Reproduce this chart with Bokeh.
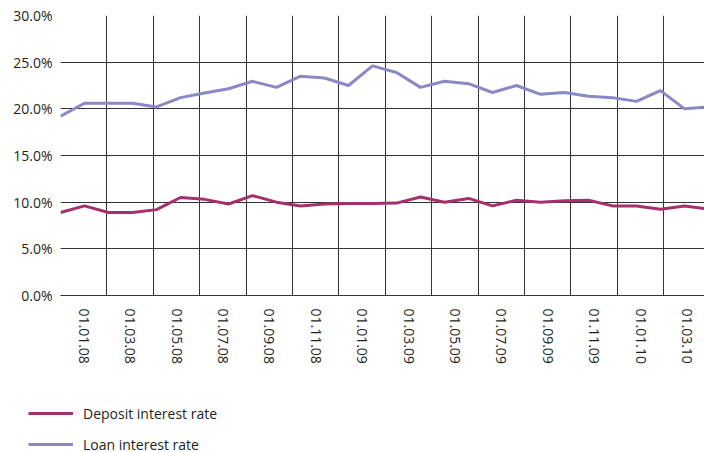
from bokeh.plotting import figure
from bokeh.layouts import column
from bokeh.models import Range1d, FixedTicker, PrintfTickFormatter, Legend, LegendItem
from bokeh.embed import file_html
from bokeh.resources import INLINE

# ---- data -------------------------------------------------------------
tick_labels = ["01.01.08", "01.03.08", "01.05.08", "01.07.08", "01.09.08",
               "01.11.08", "01.01.09", "01.03.09", "01.05.09", "01.07.09",
               "01.09.09", "01.11.09", "01.01.10", "01.03.10"]
tick_months = [1, 3, 5, 7, 9, 11, 13, 15, 17, 19, 21, 23, 25, 27]

deposit = [8.9, 9.6, 8.9, 8.9, 9.2, 10.5, 10.3, 9.8, 10.7, 10.0,
           9.6, 9.8, 9.85, 9.85, 9.9, 10.55, 10.0, 10.4, 9.6, 10.2,
           10.0, 10.15, 10.2, 9.6, 9.6, 9.25, 9.6, 9.25]
loan = [19.2, 20.6, 20.6, 20.6, 20.2, 21.2, 21.7, 22.15, 22.95, 22.3,
        23.5, 23.3, 22.5, 24.6, 23.9, 22.3, 22.95, 22.7, 21.75, 22.5,
        21.55, 21.75, 21.35, 21.2, 20.8, 21.95, 20.0, 20.2]
point_index = list(range(len(deposit)))

y_ticks = [0, 5, 10, 15, 20, 25, 30]

series_names = ["Deposit interest rate", "Loan interest rate"]

# ---- layout constants ---------------------------------------------------
N_CATS = 30          # category slots of the full (cropped) chart
FULL_W = 696         # full plot-area width
FRAME_W = 644        # visible plot-area width
month_end = N_CATS * FRAME_W / FULL_W
point_end = (N_CATS - 1) * FRAME_W / FULL_W

W = 704
H_MAIN = 380
H_LEG = 72

FONT = "Open Sans"
TXT = "#231f20"
GRID = "#333333"
DEP_COLOR = "#a6306c"
LOAN_COLOR = "#8c87c6"

p = figure(width=W, height=H_MAIN,
           x_range=Range1d(0, month_end), y_range=Range1d(0, 30),
           min_border_left=60, min_border_right=0,
           min_border_top=15, min_border_bottom=85,
           output_backend="svg", toolbar_location=None,
           outline_line_color=None, background_fill_color="white",
           border_fill_color="white")
p.extra_x_ranges = {"pts": Range1d(0, point_end)}

# x axis
xa = p.xaxis[0]
xa.ticker = FixedTicker(ticks=tick_months)
xa.major_label_overrides = {m: lab for m, lab in zip(tick_months, tick_labels)}
xa.major_label_orientation = "vertical"
xa.major_label_standoff = 13
xa.major_tick_in = 0
xa.major_tick_out = 0
xa.minor_tick_line_color = None
xa.major_tick_line_color = None
xa.axis_line_color = GRID
xa.major_label_text_font = FONT
xa.major_label_text_font_size = "14px"
xa.major_label_text_color = TXT

# y axis
ya = p.yaxis[0]
ya.ticker = FixedTicker(ticks=y_ticks)
ya.formatter = PrintfTickFormatter(format="%.1f%%")
ya.major_label_standoff = 8
ya.major_tick_in = 0
ya.major_tick_out = 0
ya.minor_tick_line_color = None
ya.major_tick_line_color = None
ya.axis_line_color = None
ya.major_label_text_font = FONT
ya.major_label_text_font_size = "14px"
ya.major_label_text_color = TXT

# grids
grid_months = [m - 1 for m in tick_months] + [tick_months[-1] + 1]
p.xgrid.ticker = FixedTicker(ticks=grid_months)
p.xgrid.grid_line_color = GRID
p.xgrid.grid_line_width = 1
p.ygrid.ticker = FixedTicker(ticks=y_ticks)
p.ygrid.grid_line_color = GRID
p.ygrid.grid_line_width = 1

# lines
p.line(point_index, deposit, x_range_name="pts", line_color=DEP_COLOR, line_width=3)
p.line(point_index, loan, x_range_name="pts", line_color=LOAN_COLOR, line_width=3)

# ---- legend strip ---------------------------------------------------------
q = figure(width=W, height=H_LEG, x_range=Range1d(0, W), y_range=Range1d(0, H_LEG),
           x_axis_location=None, y_axis_location=None,
           min_border=0, min_border_left=0, min_border_right=0,
           min_border_top=0, min_border_bottom=0,
           output_backend="svg", toolbar_location=None,
           outline_line_color=None, background_fill_color="white",
           border_fill_color="white")
q.frame_align = False
p.frame_align = False
q.grid.visible = False
nan = float("nan")
k_dep = q.line(x=[nan], y=[nan], line_color=DEP_COLOR, line_width=3)
k_loan = q.line(x=[nan], y=[nan], line_color=LOAN_COLOR, line_width=3)

legend = Legend(items=[LegendItem(label=series_names[0], renderers=[k_dep]),
                       LegendItem(label=series_names[1], renderers=[k_loan])],
                location=(28, -2), orientation="vertical",
                margin=0, padding=0, spacing=11,
                glyph_width=45, glyph_height=20, label_height=20,
                label_standoff=10,
                label_text_font=FONT, label_text_font_size="14px",
                label_text_color=TXT,
                border_line_color=None, background_fill_alpha=0)
q.add_layout(legend, "center")

layout = column(p, q, spacing=0)
open("out.html", "w").write(file_html(layout, INLINE))
